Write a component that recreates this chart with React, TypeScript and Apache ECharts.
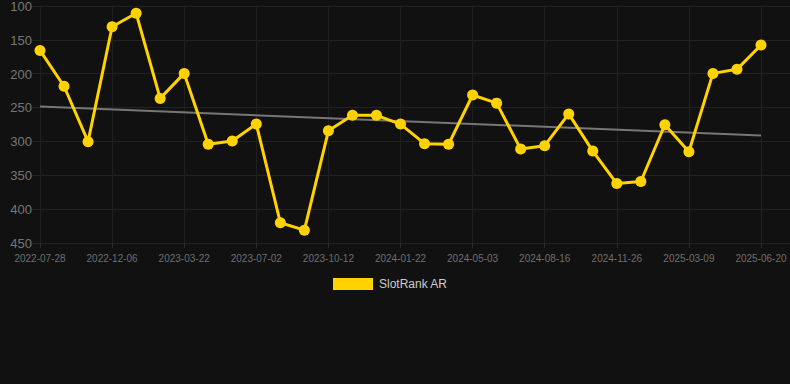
import React, { useEffect, useRef } from "react";
import * as echarts from "echarts";

const categories: string[] = [
  "2022-07-28", "2022-09-10", "2022-10-24",
  "2022-12-06", "2023-01-10", "2023-02-14",
  "2023-03-22", "2023-04-25", "2023-05-29",
  "2023-07-02", "2023-08-05", "2023-09-08",
  "2023-10-12", "2023-11-15", "2023-12-19",
  "2024-01-22", "2024-02-25", "2024-03-30",
  "2024-05-03", "2024-06-07", "2024-07-12",
  "2024-08-16", "2024-09-19", "2024-10-23",
  "2024-11-26", "2024-12-30", "2025-02-02",
  "2025-03-09", "2025-04-12", "2025-05-16",
  "2025-06-20",
];

const slotRankValues: number[] = [
  165, 218, 300, 130, 110, 236, 199, 304, 299, 274,
  420, 431, 284, 261, 261, 274, 303, 304, 231, 243,
  311, 306, 259, 314, 362, 359, 275, 315, 199, 193,
  157,
];

const trendEnds: number[] = [248, 291];

const yTicks = { min: 100, max: 450, interval: 50 };

const FONT = "Arial, Liberation Sans, sans-serif";

export default function App() {
  const ref = useRef<HTMLDivElement>(null);
  useEffect(() => {
    document.body.style.margin = "0";
    if (!ref.current) return;
    const chart = echarts.init(ref.current, undefined, { renderer: "svg" });
    const last = categories.length - 1;
    chart.setOption({
      animation: false,
      backgroundColor: "#111111",
      grid: [
        { left: 40, right: 29, top: 6, bottom: 141 },
        { left: 32, right: 0, top: 6, bottom: 141 },
      ],
      legend: {
        data: ["SlotRank AR"],
        top: 278,
        left: 333,
        padding: 0,
        icon: "rect",
        itemWidth: 40,
        itemHeight: 12,
        itemGap: 10,
        textStyle: { color: "#cccccc", fontSize: 12, fontFamily: FONT, padding: [0, 0, 0, 1] },
      },
      xAxis: [
        {
          type: "category",
          gridIndex: 0,
          data: categories,
          boundaryGap: false,
          axisLine: { show: false },
          axisTick: { show: true, alignWithLabel: true, interval: 2, lineStyle: { color: "#2a2a2a" } },
          axisLabel: {
            interval: 2,
            color: "#6e6e6e",
            fontSize: 10,
            margin: 10,
            fontFamily: FONT,
          },
          splitLine: { show: true, interval: 2, lineStyle: { color: "#1f1f1f" } },
        },
        {
          type: "value",
          gridIndex: 1,
          show: false,
          min: 0,
          max: 1,
        },
      ],
      yAxis: [
        {
          type: "value",
          gridIndex: 0,
          inverse: true,
          min: yTicks.min,
          max: yTicks.max,
          interval: yTicks.interval,
          axisLine: { show: false },
          axisTick: { show: false },
          axisLabel: {
            color: "#777777",
            fontSize: 13,
            margin: 8,
            fontFamily: FONT,
          },
          splitLine: { show: false },
        },
        {
          type: "value",
          gridIndex: 1,
          inverse: true,
          min: yTicks.min,
          max: yTicks.max,
          interval: yTicks.interval,
          axisLine: { show: false },
          axisTick: { show: false },
          axisLabel: { show: false },
          splitLine: { lineStyle: { color: "#222222" } },
        },
      ],
      series: [
        {
          name: "Trend",
          type: "line",
          xAxisIndex: 0,
          yAxisIndex: 0,
          data: [
            [categories[0], trendEnds[0]],
            [categories[last], trendEnds[1]],
          ],
          symbol: "none",
          lineStyle: { color: "#777777", width: 2 },
          z: 3,
          silent: true,
        },
        {
          name: "SlotRank AR",
          type: "line",
          xAxisIndex: 0,
          yAxisIndex: 0,
          data: slotRankValues,
          symbol: "circle",
          symbolSize: 11,
          itemStyle: { color: "#ffd200" },
          lineStyle: { color: "#ffd200", width: 3 },
          z: 4,
        },
      ],
    });
    return () => chart.dispose();
  }, []);
  return <div ref={ref} style={{ width: 790, height: 384 }} />;
}
